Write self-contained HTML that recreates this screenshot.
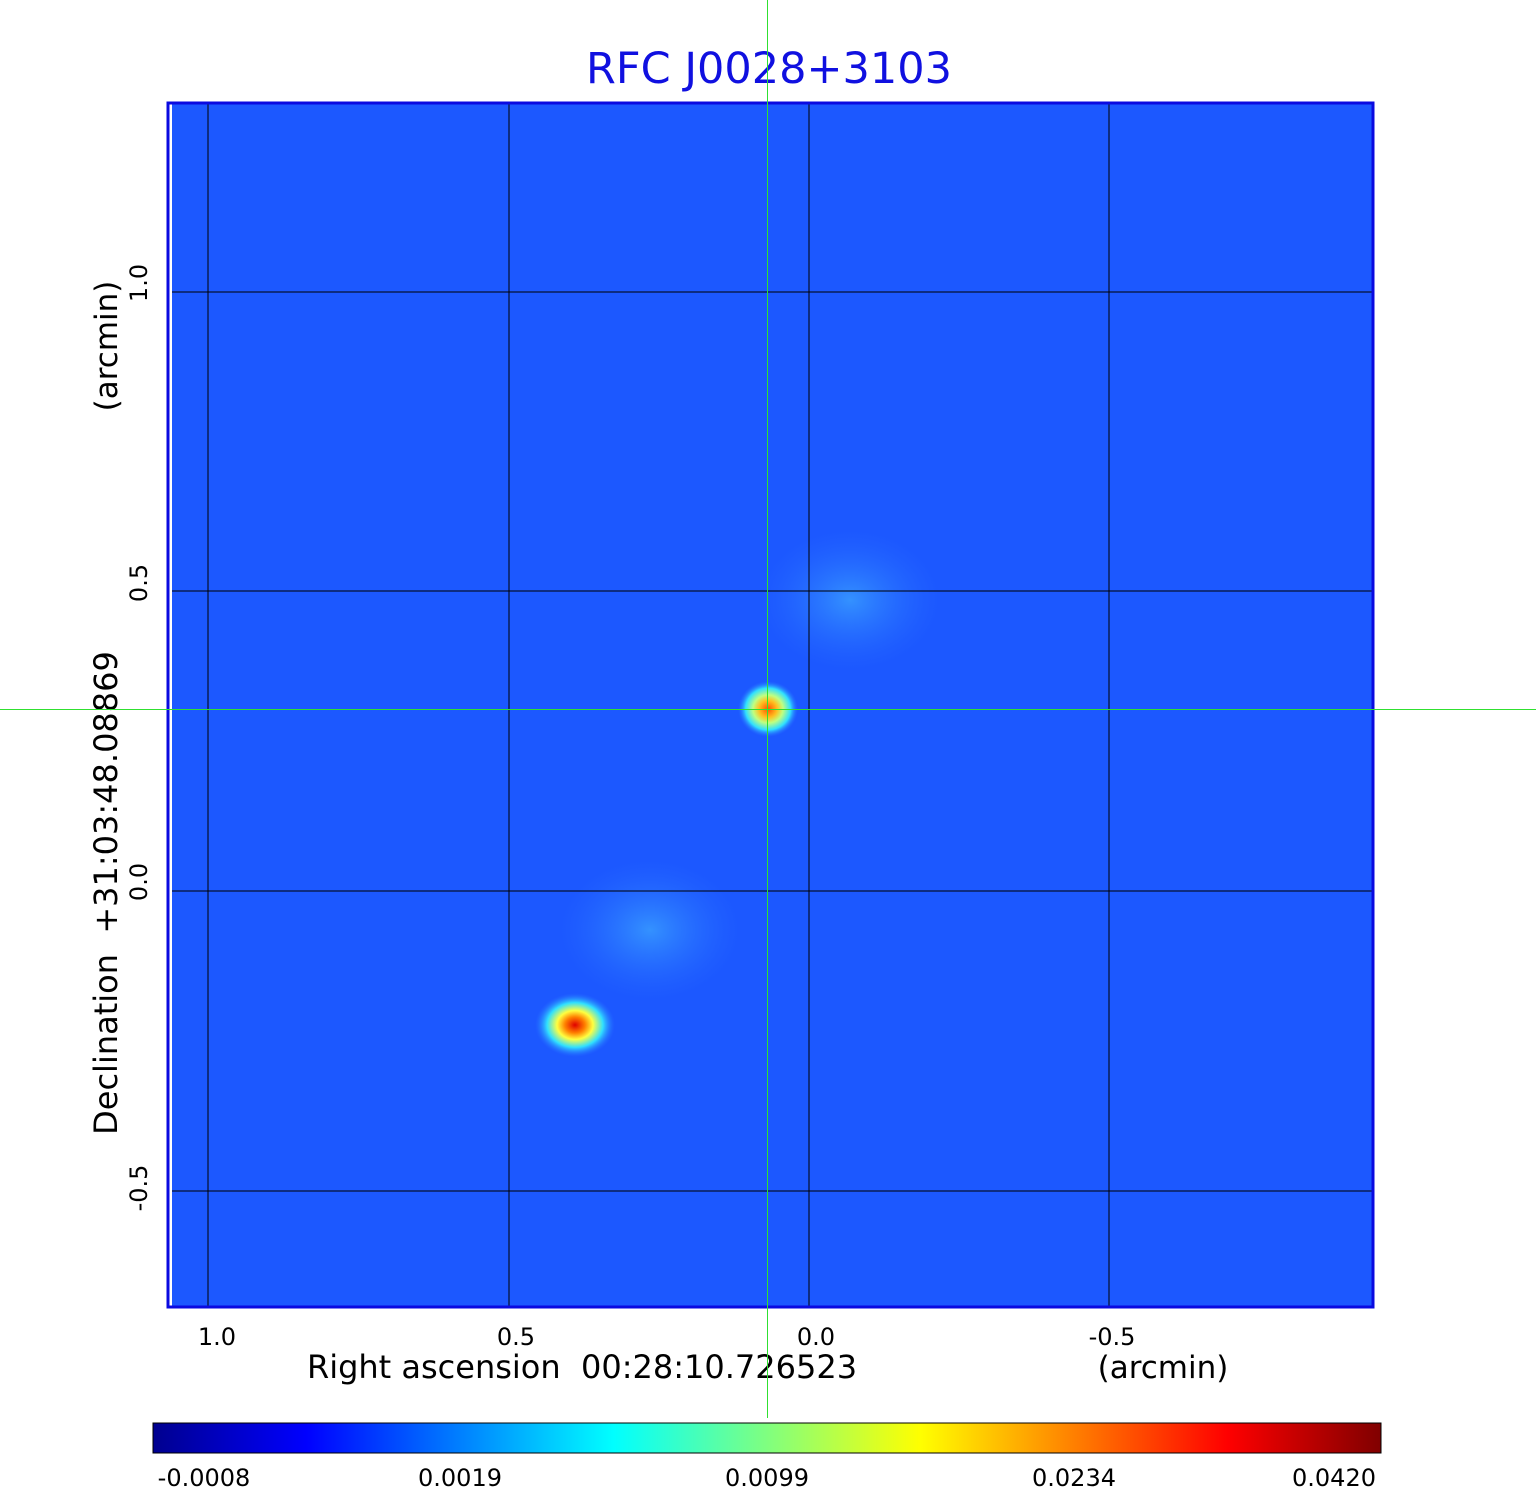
<!DOCTYPE html>
<html><head><style>
html,body{margin:0;padding:0;background:#fff;width:1536px;height:1511px;overflow:hidden}
svg{display:block}
text{font-family:"DejaVu Sans","Liberation Sans",sans-serif;white-space:pre}
</style></head><body>
<svg width="1536" height="1511" viewBox="0 0 1536 1511" xmlns="http://www.w3.org/2000/svg">
<defs>
<radialGradient id="s1"><stop offset="0" stop-color="#e00000"/><stop offset="0.25" stop-color="#ff8000"/><stop offset="0.45" stop-color="#ffff40"/><stop offset="0.7" stop-color="#30e0ff"/><stop offset="1" stop-color="#2a70ff" stop-opacity="0"/></radialGradient>
<radialGradient id="s2"><stop offset="0" stop-color="#ff5000"/><stop offset="0.3" stop-color="#ffc020"/><stop offset="0.5" stop-color="#c0ff80"/><stop offset="0.75" stop-color="#30e0ff"/><stop offset="1" stop-color="#2a70ff" stop-opacity="0"/></radialGradient>
<radialGradient id="g"><stop offset="0" stop-color="#3aa0ff" stop-opacity="0.8"/><stop offset="1" stop-color="#2a70ff" stop-opacity="0"/></radialGradient>
<linearGradient id="jet" x1="0" x2="1"><stop offset="0" stop-color="#00008f"/><stop offset="0.125" stop-color="#0000ff"/><stop offset="0.375" stop-color="#00ffff"/><stop offset="0.625" stop-color="#ffff00"/><stop offset="0.875" stop-color="#ff0000"/><stop offset="1" stop-color="#800000"/></linearGradient>
</defs>
<text x="769" y="83" font-size="43" fill="#1010e0" text-anchor="middle">RFC J0028+3103</text>
<rect x="172" y="104" width="1200" height="1202" fill="#1c58ff"/>
<ellipse cx="850" cy="600" rx="90" ry="70" fill="url(#g)"/>
<ellipse cx="650" cy="930" rx="90" ry="70" fill="url(#g)"/>
<ellipse cx="575" cy="1025" rx="40" ry="32" fill="url(#s1)"/>
<ellipse cx="768" cy="709" rx="30" ry="28" fill="url(#s2)"/>
<g stroke="#000" stroke-width="1">
<line x1="208" y1="104" x2="208" y2="1306"/><line x1="509" y1="104" x2="509" y2="1306"/><line x1="809" y1="104" x2="809" y2="1306"/><line x1="1109" y1="104" x2="1109" y2="1306"/>
<line x1="172" y1="292" x2="1372" y2="292"/><line x1="172" y1="591" x2="1372" y2="591"/><line x1="172" y1="891" x2="1372" y2="891"/><line x1="172" y1="1191" x2="1372" y2="1191"/>
</g>
<rect x="168" y="103" width="1205" height="1204" fill="none" stroke="#0a0ae0" stroke-width="3"/>
<g font-size="24" fill="#000" text-anchor="middle">
<text x="217" y="1345">1.0</text><text x="516" y="1345">0.5</text><text x="816" y="1345">0.0</text><text x="1112" y="1345">-0.5</text>
<text x="582" y="1378" font-size="32" xml:space="preserve">Right ascension  00:28:10.726523</text>
<text x="1163" y="1378" font-size="31">(arcmin)</text>
<text transform="translate(147,283) rotate(-90)">1.0</text>
<text transform="translate(147,583) rotate(-90)">0.5</text>
<text transform="translate(147,882) rotate(-90)">0.0</text>
<text transform="translate(147,1188) rotate(-90)">-0.5</text>
<text transform="translate(117,893) rotate(-90)" font-size="32" xml:space="preserve">Declination  +31:03:48.08869</text>
<text transform="translate(117,346) rotate(-90)" font-size="31">(arcmin)</text>
</g>
<rect x="153" y="1423" width="1228" height="30" fill="url(#jet)" stroke="#000" stroke-width="1"/>
<g font-size="24" fill="#000" text-anchor="middle">
<text x="204" y="1486">-0.0008</text><text x="460" y="1486">0.0019</text><text x="767" y="1486">0.0099</text><text x="1074" y="1486">0.0234</text><text x="1334" y="1486">0.0420</text>
</g>
<rect x="767" y="0" width="1" height="1418" fill="#30e030"/>
<rect x="0" y="709" width="1536" height="1" fill="#30e030"/>
</svg>
</body></html>
